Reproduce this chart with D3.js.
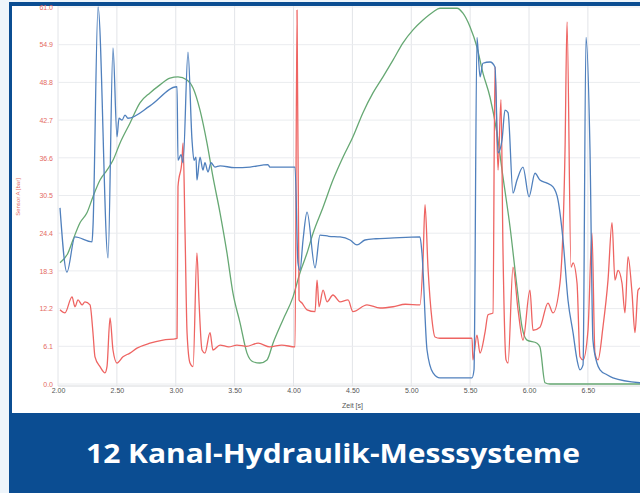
<!DOCTYPE html>
<html><head><meta charset="utf-8">
<script src="https://cdn.jsdelivr.net/npm/d3@7"></script>
<style>body{margin:0;background:#fff;overflow:hidden}svg{display:block}</style>
</head><body>
<svg id="c" width="640" height="493"></svg>
<script>
const title = "12 Kanal-Hydraulik-Messsysteme";
const xLabel = "Zeit [s]";
const yLabel = "Sensor A [bar]";
const xTicks = [2.0, 2.5, 3.0, 3.5, 4.0, 4.5, 5.0, 5.5, 6.0, 6.5];
const yTicks = [0.0, 6.1, 12.2, 18.3, 24.4, 30.5, 36.6, 42.7, 48.8, 54.9, 61.0];

// blue channel
const blueT = [2.017,2.076,2.144,2.289,2.297,2.340,2.425,2.467,2.501,2.518,2.544,2.569,2.594,2.781,3.011,3.019,3.045,3.062,3.104,3.138,3.155,3.172,3.180,3.206,3.231,3.248,3.274,3.299,3.333,3.376,3.500,3.631,3.783,3.800,4.013,4.038,4.055,4.081,4.115,4.183,4.225,4.300,4.395,4.480,4.539,4.607,4.700,4.820,5.074,5.091,5.134,5.185,5.244,5.516,5.533,5.558,5.584,5.609,5.669,5.711,5.737,5.771,5.796,5.822,5.864,5.898,5.949,6.000,6.051,6.093,6.153,6.204,6.246,6.289,6.331,6.374,6.408,6.433,6.459,6.484,6.518,6.543,6.577,6.603,6.662,6.713,6.943];
const blueV = [28.5,18.1,23.8,23.0,25.4,61.0,20.4,54.4,40.0,43.0,42.7,43.5,43.0,45.0,48.1,36.2,37.1,35.8,53.7,39.5,36.2,36.7,33.0,36.7,34.6,35.8,34.3,35.8,35.1,35.3,35.0,35.1,35.5,35.1,35.1,19.6,18.4,23.3,27.8,18.8,24.1,23.9,23.8,23.3,22.5,23.3,23.5,23.6,23.8,21.2,5.5,1.8,1.0,1.0,2.3,56.1,49.7,51.9,52.1,51.3,37.4,39.5,44.3,43.9,30.9,33.0,35.1,30.3,34.1,33.0,32.5,31.9,29.8,23.3,13.6,8.3,3.9,2.3,3.1,56.1,37.9,7.1,3.4,2.3,1.5,1.0,0.2];

// red channel
const redT = [2.017,2.059,2.119,2.144,2.170,2.204,2.229,2.272,2.297,2.314,2.357,2.399,2.416,2.442,2.467,2.501,2.552,2.611,2.671,2.781,2.892,3.011,3.019,3.053,3.062,3.079,3.096,3.121,3.147,3.180,3.197,3.223,3.248,3.291,3.316,3.376,3.450,3.520,3.600,3.700,3.800,3.900,4.013,4.030,4.047,4.072,4.115,4.183,4.200,4.217,4.251,4.285,4.335,4.395,4.463,4.505,4.624,4.735,4.845,4.950,5.074,5.100,5.117,5.142,5.176,5.202,5.244,5.516,5.524,5.558,5.584,5.626,5.652,5.694,5.711,5.737,5.762,5.779,5.805,5.822,5.864,5.907,5.949,6.008,6.034,6.093,6.161,6.204,6.263,6.306,6.323,6.357,6.374,6.408,6.433,6.459,6.501,6.535,6.560,6.586,6.628,6.671,6.705,6.730,6.756,6.790,6.815,6.841,6.875,6.900,6.926,6.960];
const redV = [12.0,11.5,14.1,12.5,13.6,12.8,13.3,12.8,8.3,4.4,2.8,1.8,2.8,10.7,5.5,3.4,4.4,5.0,5.8,6.6,7.1,7.4,31.9,36.2,39.0,24.4,8.3,3.4,2.8,21.2,13.6,5.5,5.0,8.3,5.5,6.3,6.0,6.3,6.1,6.6,6.0,6.3,6.0,60.5,13.6,13.1,12.0,11.7,16.8,12.5,15.2,13.3,14.4,13.3,13.6,11.7,12.8,12.3,12.5,12.9,12.8,20.1,29.0,18.9,10.4,7.6,7.4,7.4,3.9,7.9,5.0,8.3,11.2,11.5,51.3,34.6,46.0,21.7,3.9,3.4,18.9,12.0,7.1,15.2,8.7,9.2,13.1,11.5,16.3,37.9,58.6,18.9,19.6,16.3,4.4,3.9,8.7,24.4,5.0,3.9,9.2,16.8,26.1,16.8,18.4,16.3,11.5,20.6,14.7,8.3,15.2,15.7];

// green channel
const greenT = [2.017,2.085,2.127,2.187,2.246,2.297,2.357,2.416,2.467,2.527,2.611,2.696,2.781,2.866,2.951,3.019,3.096,3.147,3.206,3.265,3.316,3.376,3.435,3.486,3.546,3.605,3.656,3.715,3.775,3.826,3.911,3.996,4.055,4.115,4.166,4.251,4.335,4.420,4.505,4.590,4.675,4.760,4.845,4.930,5.015,5.100,5.185,5.244,5.389,5.439,5.499,5.558,5.609,5.669,5.728,5.779,5.839,5.898,5.941,5.983,6.068,6.093,6.136,6.178,6.960];
const greenV = [19.6,21.2,23.3,26.1,27.7,30.3,33.0,34.6,36.2,39.0,42.2,45.5,47.1,48.4,49.5,49.7,49.2,47.9,44.3,39.0,33.5,27.7,21.2,14.7,9.9,5.0,3.6,3.4,3.9,6.6,10.4,14.1,18.0,21.2,24.4,28.6,33.0,36.7,40.0,43.9,47.1,49.7,52.4,55.2,57.3,58.9,60.2,60.8,60.8,60.0,57.8,54.5,50.3,46.4,40.6,33.5,25.4,15.7,9.2,7.1,6.6,6.0,0.2,0.0,0.0];

const svg = d3.select("#c");
const W = 640, H = 493;
const x = d3.scaleLinear().domain([2, 7]).range([58, 646.75]);
const y = d3.scaleLinear().domain([0, 61]).range([384, 7]);

svg.append("rect").attr("x",0).attr("y",0).attr("width",W).attr("height",H).attr("fill","#eef5fb");
svg.append("rect").attr("x",9).attr("y",2).attr("width",W).attr("height",H).attr("fill","#0b4d92");
svg.append("rect").attr("x",12).attr("y",6).attr("width",W).attr("height",407).attr("fill","#ffffff");

const g = svg.append("g");
g.selectAll(".vg").data(xTicks).join("line")
  .attr("x1",d=>x(d)).attr("x2",d=>x(d)).attr("y1",6).attr("y2",386)
  .attr("stroke","#e2e4e8").attr("stroke-width",1);
g.selectAll(".hg").data(yTicks).join("line")
  .attr("x1",x(2)).attr("x2",W).attr("y1",d=>y(d)).attr("y2",d=>y(d))
  .attr("stroke","#eaecef").attr("stroke-width",1);
g.append("line").attr("x1",x(2)).attr("x2",W).attr("y1",386).attr("y2",386).attr("stroke","#d8dadd");

const xAxis = d3.axisBottom(x).tickValues(xTicks).tickFormat(d3.format(".2f")).tickSize(0).tickPadding(2);
const xa = svg.append("g").attr("transform","translate(0,386)").call(xAxis);
xa.select(".domain").remove();
xa.selectAll("text").attr("font-family","Arial, 'Liberation Sans', sans-serif").attr("font-size",7).attr("fill","#555");

const yAxis = d3.axisLeft(y).tickValues(yTicks).tickFormat(d3.format(".1f")).tickSize(0).tickPadding(5);
const ya = svg.append("g").attr("transform","translate(58,0)").call(yAxis);
ya.select(".domain").remove();
ya.selectAll("text").attr("font-family","Arial, 'Liberation Sans', sans-serif").attr("font-size",7).attr("fill","#e46a62");

svg.append("text").attr("x",342).attr("y",408).text(xLabel)
  .attr("font-family","Arial, 'Liberation Sans', sans-serif").attr("font-size",7).attr("fill","#555");
svg.append("text").attr("transform","translate(20,197) rotate(-90)").attr("text-anchor","middle").text(yLabel)
  .attr("font-family","Arial, 'Liberation Sans', sans-serif").attr("font-size",6).attr("fill","#e46a62");

svg.append("clipPath").attr("id","pc").append("rect").attr("x",12).attr("y",6).attr("width",W).attr("height",382);
const lines = svg.append("g").attr("clip-path","url(#pc)");
const line = d3.line().x(d=>x(d[0])).y(d=>y(d[1])).curve(d3.curveMonotoneX);
function draw(T,V,col){
  lines.append("path").datum(T.map((t,i)=>[t,V[i]])).attr("d",line)
    .attr("fill","none").attr("stroke",col).attr("stroke-width",1.3).attr("stroke-linejoin","round");
}
draw(greenT, greenV, "#66a873");
draw(redT, redV, "#ee6462");
draw(blueT, blueV, "#5080bd");

svg.append("text").attr("x",333).attr("y",463).attr("text-anchor","middle").text(title)
  .attr("font-family","'Open Sans', sans-serif").attr("font-weight",700).attr("font-size",27)
  .attr("fill","#ffffff").attr("textLength",494).attr("lengthAdjust","spacingAndGlyphs");
</script>
</body></html>
